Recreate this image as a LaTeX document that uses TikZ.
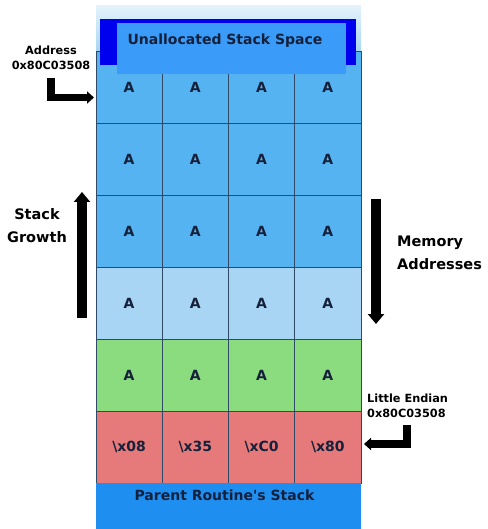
\documentclass[tikz,border=0pt]{standalone}
\usepackage{fontspec}
\setmainfont{DejaVu Sans}
\usetikzlibrary{arrows.meta,positioning}
\definecolor{rowblue}{HTML}{55B3F1}
\definecolor{rowpale}{HTML}{A9D5F5}
\definecolor{rowgreen}{HTML}{8BDC7F}
\definecolor{rowred}{HTML}{E67A7A}
\definecolor{parentblue}{HTML}{1F8EF1}
\definecolor{deepblue}{HTML}{0000EE}
\definecolor{innerblue}{HTML}{3A9BF8}
\definecolor{bandtop}{HTML}{E4F2FB}
\definecolor{bandlow}{HTML}{A8D6F2}
\definecolor{gridline}{HTML}{2E4A66}
\definecolor{inktext}{HTML}{15203A}

\begin{document}
\begin{tikzpicture}
[x=1pt,y=-1pt,
  cellbox/.style={draw=gridline,line width=0.6pt,minimum width=66.25pt,
    minimum height=72pt,inner sep=0pt,text=inktext,
    font=\fontsize{14}{14}\selectfont\bfseries},
  headtext/.style={inner sep=0pt,text=inktext,font=\fontsize{14}{14}\selectfont\bfseries},
  sidetext/.style={inner sep=0pt,font=\fontsize{14.5}{23}\selectfont\bfseries},
  smalltext/.style={inner sep=0pt,font=\fontsize{11.3}{15.5}\selectfont\bfseries},
  bigarrow/.style={line width=10pt,-{Triangle[length=10pt,width=16pt]}},
  bentarrow/.style={line width=7.5pt,-{Triangle[length=7pt,width=12pt]}}]
\useasboundingbox (0,0) rectangle (487,529);
%% top band
\fill[top color=bandtop,bottom color=bandlow] (96,6) rectangle (361,51);
%% cells of the stack
\foreach \row/\shade/\ta/\tb/\tc/\td in {
  1/rowblue/A/A/A/A, 2/rowblue/A/A/A/A, 3/rowblue/A/A/A/A,
  4/rowpale/A/A/A/A, 5/rowgreen/A/A/A/A,
  6/rowred/{\textbackslash x08}/{\textbackslash x35}/{\textbackslash xC0}/{\textbackslash x80}}
{
  \foreach \col/\txt in {1/\ta, 2/\tb, 3/\tc, 4/\td}
    \node[cellbox,fill=\shade] (c\row\col) at ({96+66.25*(\col-0.5)},{51+72*(\row-0.5)}) {\txt};
}
%% unallocated space
\node[fill=deepblue,minimum width=256pt,minimum height=46pt,inner sep=0pt] (unalloc) at (228,42) {};
\node[fill=innerblue,minimum width=229pt,minimum height=51pt,inner sep=0pt] (unallocin) at (231,48.5) {};
\node[headtext] (unalloctext) at (225,41) {Unallocated Stack Space};
%% parent routine
\node[fill=parentblue,minimum width=265pt,minimum height=46pt,inner sep=0pt,anchor=north] (parent) at (228.5,483) {};
\node[headtext,below=6.5pt of parent.north,xshift=-4pt] (parenttext) {Parent Routine\textquotesingle s Stack};
%% labels
\node[smalltext,align=center] (addr) at (51,58) {Address\\0x80C03508};
\node[smalltext,align=left,anchor=west] (endian) at (367,406) {Little Endian\\0x80C03508};
\node[sidetext,align=center] (growth) at (37,226) {Stack\\Growth};
\node[sidetext,align=left,anchor=west] (memory) at (397,253) {Memory\\Addresses};
%% arrows
\coordinate (growlow) at (82,318);
\coordinate (growtop) at (82,192);
\coordinate (memtop) at (376,199);
\coordinate (memlow) at (376,324);
\coordinate (addrhit) at (94,97.5);
\coordinate (endianhit) at (364,444);
\draw[bigarrow] (growlow) -- (growtop);
\draw[bigarrow] (memtop) -- (memlow);
\draw[bentarrow] ([yshift=-8pt]addr.south) |- (addrhit);
\draw[bentarrow] ([xshift=40pt,yshift=-7pt]endian.south west) |- (endianhit);
\end{tikzpicture}
\end{document}
